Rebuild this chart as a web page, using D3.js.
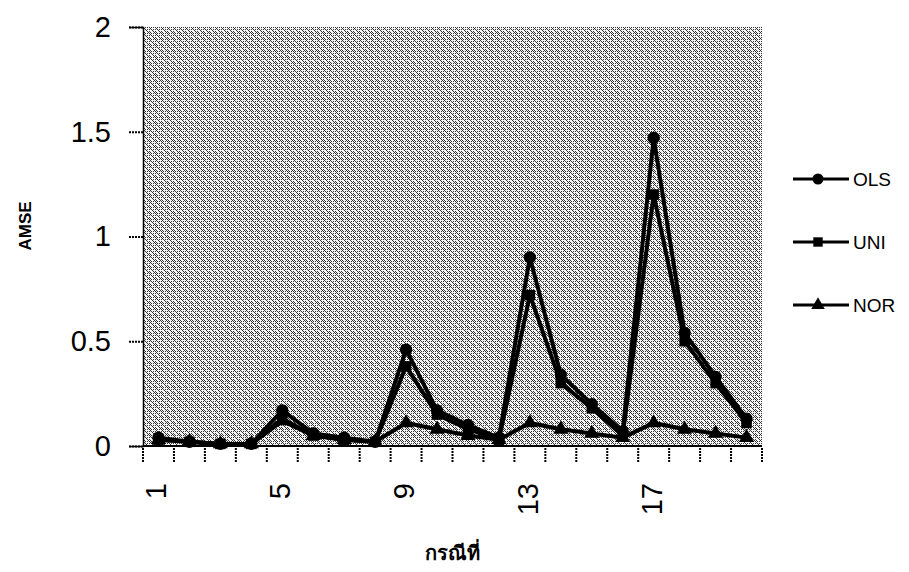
<!DOCTYPE html>
<html>
<head>
<meta charset="utf-8">
<script src="https://cdn.jsdelivr.net/npm/d3@7"></script>
<style>
  body { margin: 0; background: #fff; }
  svg { display: block; font-family: Arial, "Liberation Sans", sans-serif; }
</style>
</head>
<body>
<script>
// Chart data
const cases = d3.range(1, 21);
const tickCases = [1, 5, 9, 13, 17];
const yTicks = [0, 0.5, 1, 1.5, 2];
const seriesNames = ["OLS", "UNI", "NOR"];
const olsValues = [0.04, 0.02, 0.01, 0.01, 0.17, 0.06, 0.04, 0.02, 0.46, 0.17,
                   0.10, 0.04, 0.90, 0.34, 0.20, 0.07, 1.47, 0.54, 0.33, 0.13];
const uniValues = [0.03, 0.02, 0.01, 0.01, 0.13, 0.05, 0.03, 0.02, 0.38, 0.15,
                   0.08, 0.03, 0.72, 0.30, 0.18, 0.05, 1.20, 0.50, 0.30, 0.11];
const norValues = [0.03, 0.02, 0.01, 0.01, 0.12, 0.05, 0.03, 0.02, 0.11, 0.08,
                   0.05, 0.03, 0.11, 0.08, 0.06, 0.04, 0.11, 0.08, 0.06, 0.04];

const series = [
    { name: seriesNames[0], values: olsValues, symbol: d3.symbolCircle, size: 120 },
    { name: seriesNames[1], values: uniValues, symbol: d3.symbolSquare, size: 110 },
    { name: seriesNames[2], values: norValues, symbol: d3.symbolTriangle, size: 100 }
];

// Dimensions
const width = 909;
const height = 572;
const margin = { top: 27, right: 147, bottom: 126, left: 143 };
const plotW = width - margin.left - margin.right;
const plotH = height - margin.top - margin.bottom;

const svg = d3.select("body")
    .append("svg")
    .attr("width", width)
    .attr("height", height);

// Halftone-like background pattern (scanned grey)
const dotCells = [[0, 0], [2, 0], [4, 0], [1, 1], [0, 2], [2, 2], [4, 2],
                  [3, 3], [0, 4], [4, 4], [1, 5], [5, 5]];
const defs = svg.append("defs");
const pat = defs.append("pattern")
    .attr("id", "halftone")
    .attr("patternUnits", "userSpaceOnUse")
    .attr("width", 6)
    .attr("height", 6);
pat.append("rect").attr("width", 6).attr("height", 6).attr("fill", "#f6f6f6");
pat.selectAll(".dot")
    .data(dotCells)
    .join("rect")
    .attr("x", d => d[0]).attr("y", d => d[1])
    .attr("width", 1).attr("height", 1)
    .attr("fill", "#333");

const g = svg.append("g")
    .attr("transform", `translate(${margin.left},${margin.top})`);

// Scales
const x = d3.scaleBand()
    .domain(cases)
    .range([0, plotW]);

const y = d3.scaleLinear()
    .domain([0, 2])
    .range([plotH, 0]);

// Plot background
g.append("rect")
    .attr("width", plotW)
    .attr("height", plotH)
    .attr("fill", "url(#halftone)");

// Y axis
const yAxis = g.append("g")
    .call(d3.axisLeft(y).tickValues(yTicks).tickFormat(d3.format("")).tickSize(14).tickPadding(18));
yAxis.select(".domain").attr("stroke", "#000").attr("stroke-width", 1.5);
yAxis.selectAll(".tick line").attr("stroke", "#000").attr("stroke-width", 2).attr("stroke-dasharray", "2,1");
yAxis.selectAll(".tick text")
    .attr("font-size", 29)
    .attr("fill", "#000");

// X axis: ticks on category boundaries
const xAxisG = g.append("g")
    .attr("transform", `translate(0,${plotH})`);
xAxisG.append("line")
    .attr("x1", 0).attr("x2", plotW)
    .attr("stroke", "#000").attr("stroke-width", 2);
xAxisG.selectAll(".bound")
    .data(d3.range(0, cases.length + 1))
    .join("line")
    .attr("class", "bound")
    .attr("x1", d => d * x.step())
    .attr("x2", d => d * x.step())
    .attr("y1", 2).attr("y2", 16)
    .attr("stroke", "#000").attr("stroke-width", 2)
    .attr("stroke-dasharray", "2,1");
xAxisG.selectAll(".xlabel")
    .data(tickCases)
    .join("text")
    .attr("class", "xlabel")
    .attr("transform", d => `translate(${x(d) + x.bandwidth() / 2 + 8},37) rotate(-90)`)
    .attr("text-anchor", "end")
    .attr("font-size", 29)
    .attr("fill", "#000")
    .text(d => d);

// Lines and markers
const line = d3.line()
    .x((d, i) => x(cases[i]) + x.bandwidth() / 2)
    .y(d => y(d));

series.forEach(s => {
    g.append("path")
        .datum(s.values)
        .attr("fill", "none")
        .attr("stroke", "#000")
        .attr("stroke-width", 4)
        .attr("d", line);
    g.selectAll(null)
        .data(s.values)
        .join("path")
        .attr("transform", (d, i) => `translate(${x(cases[i]) + x.bandwidth() / 2},${y(d)})`)
        .attr("d", d3.symbol().type(s.symbol).size(s.size))
        .attr("fill", "#000");
});

// Axis titles
svg.append("text")
    .attr("transform", "translate(31,226) rotate(-90)")
    .attr("text-anchor", "middle")
    .attr("font-size", 17)
    .attr("font-weight", "bold")
    .text("AMSE");

svg.append("text")
    .attr("x", margin.left + plotW / 2)
    .attr("y", 560)
    .attr("text-anchor", "middle")
    .attr("font-size", 20)
    .attr("font-weight", "bold")
    .attr("font-family", "'Noto Sans', 'DejaVu Sans', sans-serif")
    .text("กรณีที่");

// Legend
const legend = svg.append("g")
    .attr("transform", "translate(793,179)");
series.forEach((s, i) => {
    const row = legend.append("g").attr("transform", `translate(0,${i * 63})`);
    row.append("line")
        .attr("x1", 0).attr("x2", 56)
        .attr("stroke", "#000").attr("stroke-width", 3);
    row.append("path")
        .attr("transform", "translate(25,0)")
        .attr("d", d3.symbol().type(s.symbol).size(s.size * 0.8))
        .attr("fill", "#000");
    row.append("text")
        .attr("x", 60)
        .attr("y", 7)
        .attr("font-size", 19)
        .text(s.name);
});
</script>
</body>
</html>
